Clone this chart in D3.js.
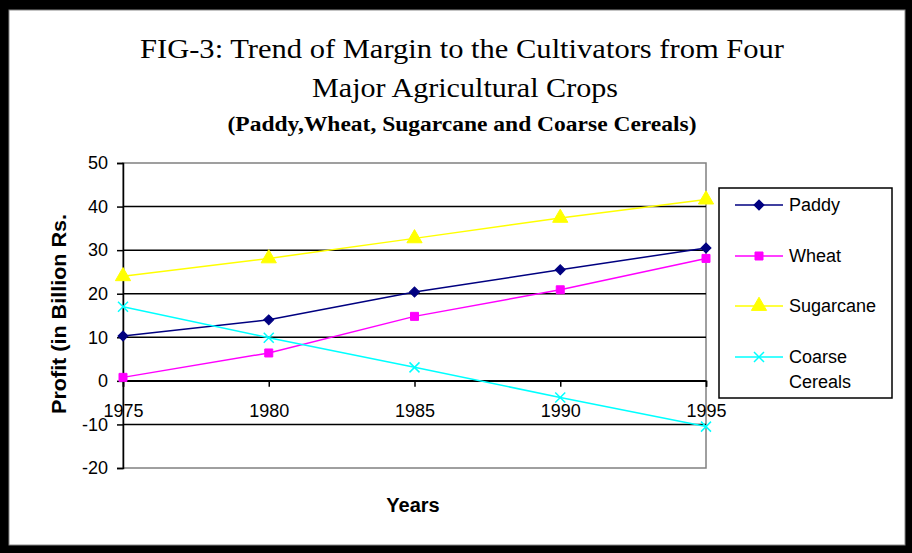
<!DOCTYPE html>
<html><head><meta charset="utf-8">
<script src="https://cdn.jsdelivr.net/npm/d3@7"></script>
<style>body{margin:0;background:#fff}svg{display:block}</style>
</head><body>
<svg id="c" width="912" height="553"></svg>
<script>
const years = [1975, 1980, 1985, 1990, 1995];
const seriesNames = ["Paddy", "Wheat", "Sugarcane", "Coarse Cereals"];
const paddy = [10.3, 14.0, 20.4, 25.5, 30.5];
const wheat = [0.8, 6.4, 14.8, 20.9, 28.1];
const sugarcane = [24.0, 28.1, 32.7, 37.4, 41.6];
const coarseCereals = [17.0, 9.9, 3.1, -3.8, -10.5];
const yTicks = [-20, -10, 0, 10, 20, 30, 40, 50];

const colors = ["#000080", "#ff00ff", "#ffff00", "#00ffff"];
const symbols = ["diamond", d3.symbolSquare, d3.symbolTriangle, "x"];
const values = [paddy, wheat, sugarcane, coarseCereals];
const sans = "Liberation Sans, Arial, sans-serif";
const serif = "Liberation Serif, Times New Roman, serif";

const svg = d3.select("#c");
// outer frame
svg.append("rect").attr("x", 0).attr("y", 0).attr("width", 912).attr("height", 553).attr("fill", "#000");
svg.append("rect").attr("x", 9).attr("y", 10).attr("width", 896).attr("height", 535).attr("fill", "#fff")
  .attr("stroke", "#888").attr("stroke-width", 1);

const x = d3.scaleLinear().domain([1975, 1995]).range([123, 706]);
const y = d3.scaleLinear().domain([-20, 50]).range([468, 163]);

// plot border (gray)
svg.append("rect").attr("x", 123).attr("y", 163).attr("width", 583).attr("height", 305)
  .attr("fill", "none").attr("stroke", "#808080").attr("stroke-width", 1.5);

// gridlines
svg.append("g").selectAll("line").data(yTicks.filter(d => d > -20 && d < 50)).join("line")
  .attr("x1", 123).attr("x2", 706).attr("y1", d => y(d)).attr("y2", d => y(d))
  .attr("stroke", "#000").attr("stroke-width", 1.5);

// y axis
const yAxis = d3.axisLeft(y).tickValues(yTicks).tickSize(6).tickPadding(9).tickFormat(d => String(d));
const ga = svg.append("g").attr("transform", "translate(123,0)").call(yAxis);
ga.select(".domain").attr("stroke", "#000").attr("stroke-width", 1.5);
ga.selectAll(".tick line").attr("stroke-width", 1.5);
ga.selectAll("text").attr("font-family", sans).attr("font-size", 18).attr("fill", "#000");

// x axis at y=0
const xAxis = d3.axisBottom(x).tickValues(years).tickSize(6).tickPadding(17).tickFormat(d => String(d));
const gx = svg.append("g").attr("transform", `translate(0,${y(0)})`).call(xAxis);
gx.select(".domain").attr("stroke", "#000").attr("stroke-width", 1.5);
gx.selectAll(".tick line").attr("stroke-width", 1.5);
gx.selectAll("text").attr("font-family", sans).attr("font-size", 18).attr("fill", "#000");

const line = d3.line().x((d, i) => x(years[i])).y(d => y(d));

function drawMarker(g, sym, color, cx, cy) {
  if (sym === "x") {
    const s = 5;
    g.append("path").attr("d", `M${cx - s},${cy - s}L${cx + s},${cy + s}M${cx - s},${cy + s}L${cx + s},${cy - s}`)
      .attr("stroke", color).attr("stroke-width", 1.5).attr("fill", "none");
  } else if (sym === "diamond") {
    g.append("path").attr("d", d3.symbol(d3.symbolSquare, 50)()).attr("transform", `translate(${cx},${cy}) rotate(45)`)
      .attr("fill", color).attr("stroke", color);
  } else {
    const size = sym === d3.symbolTriangle ? 100 : 64;
    g.append("path").attr("d", d3.symbol(sym, size)()).attr("transform", `translate(${cx},${cy})`)
      .attr("fill", color).attr("stroke", color);
  }
}

values.forEach((vals, si) => {
  const g = svg.append("g");
  g.append("path").datum(vals).attr("d", line).attr("fill", "none").attr("stroke", colors[si]).attr("stroke-width", 1.5);
  vals.forEach((v, i) => drawMarker(g, symbols[si], colors[si], x(years[i]), y(v)));
});

// legend
const lg = svg.append("g");
lg.append("rect").attr("x", 719).attr("y", 188).attr("width", 173).attr("height", 210)
  .attr("fill", "#fff").attr("stroke", "#000").attr("stroke-width", 1.5);
const legY = [205, 256, 306, 357];
seriesNames.forEach((name, si) => {
  const ly = legY[si];
  lg.append("line").attr("x1", 735).attr("x2", 783).attr("y1", ly).attr("y2", ly).attr("stroke", colors[si]).attr("stroke-width", 1.5);
  drawMarker(lg, symbols[si], colors[si], 759, ly);
  const t = lg.append("text").attr("x", 789).attr("y", ly + 6).attr("font-family", sans)
    .attr("font-size", 18).attr("fill", "#000");
  const parts = name === "Coarse Cereals" ? ["Coarse", "Cereals"] : [name];
  parts.forEach((p, k) => t.append("tspan").attr("x", 789).attr("dy", k === 0 ? 0 : 25).text(p));
});

// titles
svg.append("text").attr("x", 462).attr("y", 58).attr("text-anchor", "middle").attr("font-family", serif)
  .attr("font-size", 27).attr("textLength", 644).attr("lengthAdjust", "spacingAndGlyphs")
  .text("FIG-3: Trend of Margin to the Cultivators from Four");
svg.append("text").attr("x", 465).attr("y", 97).attr("text-anchor", "middle").attr("font-family", serif)
  .attr("font-size", 27).attr("textLength", 306).attr("lengthAdjust", "spacingAndGlyphs")
  .text("Major Agricultural Crops");
svg.append("text").attr("x", 462).attr("y", 131).attr("text-anchor", "middle").attr("font-family", serif)
  .attr("font-size", 20).attr("font-weight", "bold").attr("textLength", 469).attr("lengthAdjust", "spacingAndGlyphs")
  .text("(Paddy,Wheat, Sugarcane and Coarse Cereals)");

// axis titles
svg.append("text").attr("transform", "translate(66,314) rotate(-90)").attr("text-anchor", "middle")
  .attr("font-family", sans).attr("font-size", 20).attr("font-weight", "bold")
  .attr("textLength", 200).attr("lengthAdjust", "spacingAndGlyphs")
  .text("Profit (in Billion Rs.");
svg.append("text").attr("x", 413).attr("y", 512).attr("text-anchor", "middle")
  .attr("font-family", sans).attr("font-size", 20).attr("font-weight", "bold")
  .text("Years");
</script>
</body></html>
